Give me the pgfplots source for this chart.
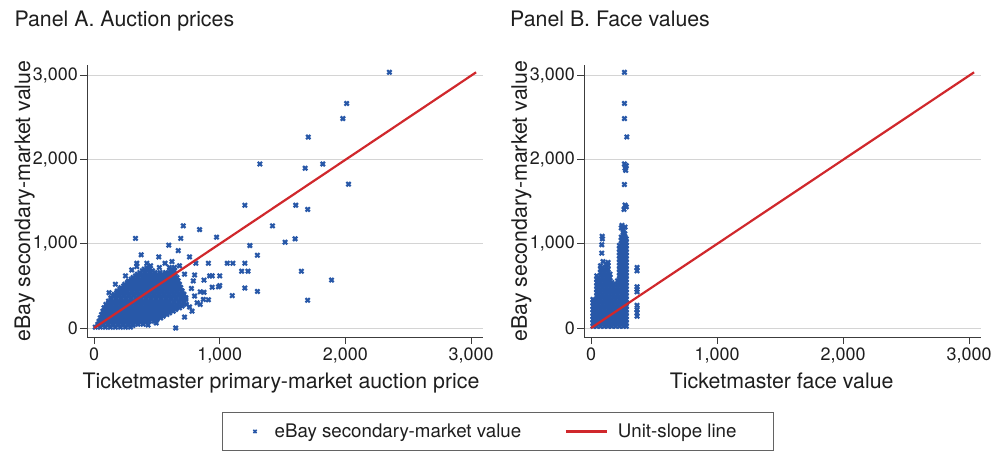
\documentclass[border=0pt]{standalone}
\usepackage{pgfplots}
\pgfplotsset{compat=1.18}
\usepackage{fontspec}
\setmainfont{TeX Gyre Heros}
\definecolor{ebay}{RGB}{40,88,168}
\definecolor{unit}{RGB}{208,40,44}
\definecolor{txt}{RGB}{30,30,30}
\definecolor{spine}{RGB}{60,60,60}
\definecolor{gridc}{RGB}{212,212,212}
\pgfplotsset{
 panel/.style={
  scale only axis, height=272bp,
  xmin=-56, xmax=3095, ymin=-107, ymax=3127,
  axis x line*=bottom, axis y line*=left,
  axis line style={spine, line width=1bp},
  tick align=outside, major tick length=7bp,
  every tick/.style={spine, line width=1bp},
  xtick={0,1000,2000,3000}, ytick={0,1000,2000,3000},
  scaled ticks=false, clip marker paths=true,
  /pgf/number format/.cd, 1000 sep={,}, assume math mode=true, /pgfplots/.cd,
  ticklabel style={font=\fontsize{18}{20}\selectfont, text=txt},
  yticklabel style={inner xsep=2bp},
  ymajorgrids, grid style={gridc, line width=1bp},
  label style={font=\fontsize{21.4}{24}\selectfont, text=txt},
  ylabel style={at={(axis description cs:-0.1439,0.5)}, anchor=base},
  title style={font=\fontsize{21.4}{24}\selectfont, text=txt, anchor=base west},
 },
 sc/.style={only marks, mark=x, mark size=3bp, ebay, line width=2.2bp},
 scleg/.style={legend image code/.code={\draw[mark repeat=2,mark phase=2,##1,mark size=2.3bp,line width=1.6bp] plot coordinates {(0bp,0bp)(9bp,0bp)(18bp,0bp)};}},
 ul/.style={unit, line width=2.2bp},
 ulleg/.style={legend image code/.code={\draw[##1] (0bp,0bp) -- (41bp,0bp);}},
}
\begin{document}
\begin{tikzpicture}
\useasboundingbox (0,0) rectangle (991bp,-454bp);
\begin{axis}[panel, width=396bp, at={(87bp,-337bp)}, anchor=south west,
  title={Panel A. Auction prices},
  title style={at={(axis description cs:-0.1919,1.1213)}},
  xlabel={Ticketmaster primary-market auction price},
  xlabel style={at={(axis description cs:0.49,-0.191)}, anchor=base},
  ylabel={eBay secondary-market value},
  legend columns=2,
  legend cell align=left,
  legend style={at={(axis description cs:0.3409,-0.2757)}, anchor=north west,
    draw=spine!80, line width=0.8bp, inner xsep=31bp, inner ysep=8.5bp,
    font=\fontsize{18.8}{20}\selectfont, text=txt,
    nodes={inner xsep=0pt, inner ysep=3bp},
    /tikz/column 1/.style={column sep=18bp},
    /tikz/column 2/.style={column sep=43.5bp},
    /tikz/column 3/.style={column sep=10bp}},
]
\addplot[sc, scleg] coordinates {
(10,10)(50,10)(90,10)(130,10)(170,10)(210,10)(250,10)(290,10)
(30,30)(70,30)(110,30)(150,30)(190,30)(230,30)(270,30)(310,30)
(30,45)(70,45)(110,45)(150,45)(190,45)(230,45)(270,45)(310,45)(350,45)(390,45)
(50,65)(90,65)(130,65)(170,65)(210,65)(250,65)(290,65)(330,65)(370,65)(410,65)
(40,80)(80,80)(120,80)(160,80)(200,80)(240,80)(280,80)(320,80)(360,80)(400,80)(440,80)(480,80)
(60,100)(100,100)(140,100)(180,100)(220,100)(260,100)(300,100)(340,100)(380,100)(420,100)(460,100)(500,100)
(50,120)(90,120)(130,120)(170,120)(210,120)(250,120)(290,120)(330,120)(370,120)(410,120)(450,120)(490,120)(530,120)
(70,140)(110,140)(150,140)(190,140)(230,140)(270,140)(310,140)(350,140)(390,140)(430,140)(470,140)(510,140)(550,140)
(60,160)(100,160)(140,160)(180,160)(220,160)(260,160)(300,160)(340,160)(380,160)(420,160)(460,160)(500,160)(540,160)(580,160)
(80,180)(120,180)(160,180)(200,180)(240,180)(280,180)(320,180)(360,180)(400,180)(440,180)(480,180)(520,180)(560,180)(600,180)
(70,200)(110,200)(150,200)(190,200)(230,200)(270,200)(310,200)(350,200)(390,200)(430,200)(470,200)(510,200)(550,200)(590,200)(630,200)
(90,220)(130,220)(170,220)(210,220)(250,220)(290,220)(330,220)(370,220)(410,220)(450,220)(490,220)(530,220)(570,220)(610,220)(650,220)
(80,240)(120,240)(160,240)(200,240)(240,240)(280,240)(320,240)(360,240)(400,240)(440,240)(480,240)(520,240)(560,240)(600,240)(640,240)(680,240)
(100,260)(140,260)(180,260)(220,260)(260,260)(300,260)(340,260)(380,260)(420,260)(460,260)(500,260)(540,260)(580,260)(620,260)(660,260)(700,260)
(95,280)(135,280)(175,280)(215,280)(255,280)(295,280)(335,280)(375,280)(415,280)(455,280)(495,280)(535,280)(575,280)(615,280)(655,280)(695,280)(735,280)
(115,300)(155,300)(195,300)(235,300)(275,300)(315,300)(355,300)(395,300)(435,300)(475,300)(515,300)(555,300)(595,300)(635,300)(675,300)(715,300)
(115,320)(155,320)(195,320)(235,320)(275,320)(315,320)(355,320)(395,320)(435,320)(475,320)(515,320)(555,320)(595,320)(635,320)(675,320)(715,320)
(135,340)(175,340)(215,340)(255,340)(295,340)(335,340)(375,340)(415,340)(455,340)(495,340)(535,340)(575,340)(615,340)(655,340)(695,340)(730,340)
(135,360)(175,360)(215,360)(255,360)(295,360)(335,360)(375,360)(415,360)(455,360)(495,360)(535,360)(575,360)(615,360)(655,360)(695,360)(730,360)
(155,380)(195,380)(235,380)(275,380)(315,380)(355,380)(395,380)(435,380)(475,380)(515,380)(555,380)(595,380)(635,380)(675,380)(710,380)
(160,400)(200,400)(240,400)(280,400)(320,400)(360,400)(400,400)(440,400)(480,400)(520,400)(560,400)(600,400)(640,400)(680,400)(715,400)
(180,420)(220,420)(260,420)(300,420)(340,420)(380,420)(420,420)(460,420)(500,420)(540,420)(580,420)(620,420)(660,420)(700,420)
(185,440)(225,440)(265,440)(305,440)(345,440)(385,440)(425,440)(465,440)(505,440)(545,440)(585,440)(625,440)(665,440)(700,440)
(205,460)(245,460)(285,460)(325,460)(365,460)(405,460)(445,460)(485,460)(525,460)(565,460)(605,460)(645,460)(680,460)
(215,480)(255,480)(295,480)(335,480)(375,480)(415,480)(455,480)(495,480)(535,480)(575,480)(615,480)(655,480)(690,480)
(235,500)(275,500)(315,500)(355,500)(395,500)(435,500)(475,500)(515,500)(555,500)(595,500)(635,500)(670,500)
(245,520)(285,520)(325,520)(365,520)(405,520)(445,520)(485,520)(525,520)(565,520)(605,520)(645,520)(680,520)
(265,540)(305,540)(345,540)(385,540)(425,540)(465,540)(505,540)(545,540)(585,540)(625,540)(660,540)
(275,560)(315,560)(355,560)(395,560)(435,560)(475,560)(515,560)(555,560)(595,560)(635,560)(670,560)
(295,580)(335,580)(375,580)(415,580)(455,580)(495,580)(535,580)(575,580)(615,580)(650,580)
(310,600)(350,600)(390,600)(430,600)(470,600)(510,600)(550,600)(590,600)(630,600)(660,600)
(330,620)(370,620)(410,620)(450,620)(490,620)(530,620)(570,620)(610,620)(645,620)
(345,640)(385,640)(425,640)(465,640)(505,640)(545,640)(590,640)(630,640)
(365,660)(405,660)(445,660)(485,660)(525,660)(570,660)(615,660)
(385,680)(425,680)(465,680)(605,680)(640,680)
(400,700)(440,700)(620,700)
(420,720)(640,720)
(2350,3040)(2010,2670)(1980,2490)(1705,2270)(1320,1950)(1680,1900)(1820,1950)(2025,1710)
(1200,1460)(1605,1460)(1700,1410)(1420,1215)(710,1215)(840,1170)(330,1065)(690,1065)
(975,1080)(595,985)(1240,980)(1520,1020)(1600,1060)(670,920)(375,870)(515,845)(760,845)
(1300,865)(910,770)(810,770)(1060,770)(1105,770)(1200,770)(1175,675)(1225,675)(1650,675)
(1000,620)(940,620)(920,620)(875,570)(1890,570)(1000,505)(940,485)(1200,475)(1300,435)
(1100,385)(875,425)(910,335)(845,280)(1700,330)(650,0)(430,35)(495,60)(340,770)(340,730)
(420,770)(565,770)(620,790)(800,630)(775,470)(845,430)(870,340)(820,300)(790,560)(990,490)
(800,380)(760,250)(720,130)(780,200)(120,420)(170,520)(250,620)(300,690)(450,740)(520,720)
(600,720)(680,740)(720,640)
};
\addlegendentry{eBay secondary-market value}
\addplot[ul, ulleg] coordinates {(0,0)(3040,3040)};
\addlegendentry{Unit-slope line\hspace{6bp}\mbox{}}
\end{axis}
\begin{axis}[panel, width=397bp, at={(584bp,-337bp)}, anchor=south west,
  title={Panel B. Face values},
  title style={at={(axis description cs:-0.1947,1.1213)}},
  xlabel={Ticketmaster face value},
  xlabel style={at={(axis description cs:0.498,-0.191)}, anchor=base},
  ylabel={eBay secondary-market value},
  ylabel style={at={(axis description cs:-0.1436,0.5)}},
]
\addplot[sc] coordinates {
(15,20)(15,60)(15,100)(15,140)(15,180)(15,220)(15,260)(15,300)(15,340)
(30,40)(30,80)(30,120)(30,160)(30,200)(30,240)(30,280)(30,320)
(45,20)(45,60)(45,100)(45,140)(45,180)(45,220)(45,260)(45,300)(45,340)(45,380)(45,420)(45,460)(45,500)(45,540)(45,580)(45,620)
(60,40)(60,80)(60,120)(60,160)(60,200)(60,240)(60,280)(60,320)(60,360)(60,400)(60,440)(60,480)(60,520)(60,560)(60,600)
(75,20)(75,60)(75,100)(75,140)(75,180)(75,220)(75,260)(75,300)(75,340)(75,380)(75,420)(75,460)(75,500)(75,540)(75,580)(75,620)(75,660)(75,700)(75,740)
(90,40)(90,80)(90,120)(90,160)(90,200)(90,240)(90,280)(90,320)(90,360)(90,400)(90,440)(90,480)(90,520)(90,560)(90,600)(90,640)(90,680)(90,720)
(85,890)(85,990)(90,1060)(88,1090)(95,790)
(105,20)(105,60)(105,100)(105,140)(105,180)(105,220)(105,260)(105,300)(105,340)(105,380)(105,420)(105,460)(105,500)(105,540)(105,580)(105,620)(105,660)(105,700)
(120,40)(120,80)(120,120)(120,160)(120,200)(120,240)(120,280)(120,320)(120,360)(120,400)(120,440)(120,480)(120,520)(120,560)(120,600)(120,640)(120,680)(120,720)(120,760)
(135,20)(135,60)(135,100)(135,140)(135,180)(135,220)(135,260)(135,300)(135,340)(135,380)(135,420)(135,460)(135,500)(135,540)(135,580)(135,620)(135,660)(135,700)(135,740)(135,780)
(150,40)(150,80)(150,120)(150,160)(150,200)(150,240)(150,280)(150,320)(150,360)(150,400)(150,440)(150,480)(150,520)(150,560)(150,600)(150,640)
(165,20)(165,60)(165,100)(165,140)(165,180)(165,220)(165,260)(165,300)(165,340)(165,380)(165,420)(165,460)(165,500)(165,540)
(180,40)(180,80)(180,120)(180,160)(180,200)(180,240)(180,280)(180,320)(180,360)(180,400)(180,440)(180,480)(180,520)
(195,20)(195,60)(195,100)(195,140)(195,180)(195,220)(195,260)(195,300)(195,340)(195,380)(195,420)(195,460)(195,500)
(210,40)(210,80)(210,120)(210,160)(210,200)(210,240)(210,280)(210,320)(210,360)(210,400)(210,440)(210,480)(210,520)(210,560)
(225,20)(225,60)(225,100)(225,140)(225,180)(225,220)(225,260)(225,300)(225,340)(225,380)(225,420)(225,460)(225,500)(225,540)(225,580)(225,620)(225,660)(225,700)(225,740)(225,780)(225,820)(225,860)(225,900)(225,940)(225,980)
(240,40)(240,80)(240,120)(240,160)(240,200)(240,240)(240,280)(240,320)(240,360)(240,400)(240,440)(240,480)(240,520)(240,560)(240,600)(240,640)(240,680)(240,720)(240,760)(240,800)(240,840)(240,880)(240,920)(240,960)(240,1000)(240,1040)(240,1080)
(255,20)(255,60)(255,100)(255,140)(255,180)(255,220)(255,260)(255,300)(255,340)(255,380)(255,420)(255,460)(255,500)(255,540)(255,580)(255,620)(255,660)(255,700)(255,740)(255,780)(255,820)(255,860)(255,900)(255,940)(255,980)(255,1020)(255,1060)(255,1100)(255,1140)
(268,40)(268,80)(268,120)(268,160)(268,200)(268,240)(268,280)(268,320)(268,360)(268,400)(268,440)(268,480)(268,520)(268,560)(268,600)(268,640)(268,680)(268,720)(268,760)(268,800)(268,840)(268,880)(268,920)(268,960)(268,1000)(268,1040)(268,1080)(268,1120)
(280,20)(280,60)(280,100)(280,140)(280,180)(280,220)(280,260)(280,300)(280,340)(280,380)(280,420)(280,460)(280,500)(280,540)(280,580)(280,620)(280,660)(280,700)(280,740)(280,780)(280,820)(280,860)(280,900)(280,940)(280,980)(280,1020)(280,1060)
(365,140)(365,180)(365,220)(365,270)(365,430)(365,460)(365,490)(365,680)(365,720)
(265,3040)(265,2670)(265,2490)(284,2272)(265,1950)(280,1930)(270,1900)(275,1875)(265,1706)
(270,1461)(280,1440)(262,1410)(245,1220)(270,1200)(255,1160)(240,1190)
};
\addplot[ul] coordinates {(0,0)(3040,3040)};
\end{axis}
\end{tikzpicture}
\end{document}
